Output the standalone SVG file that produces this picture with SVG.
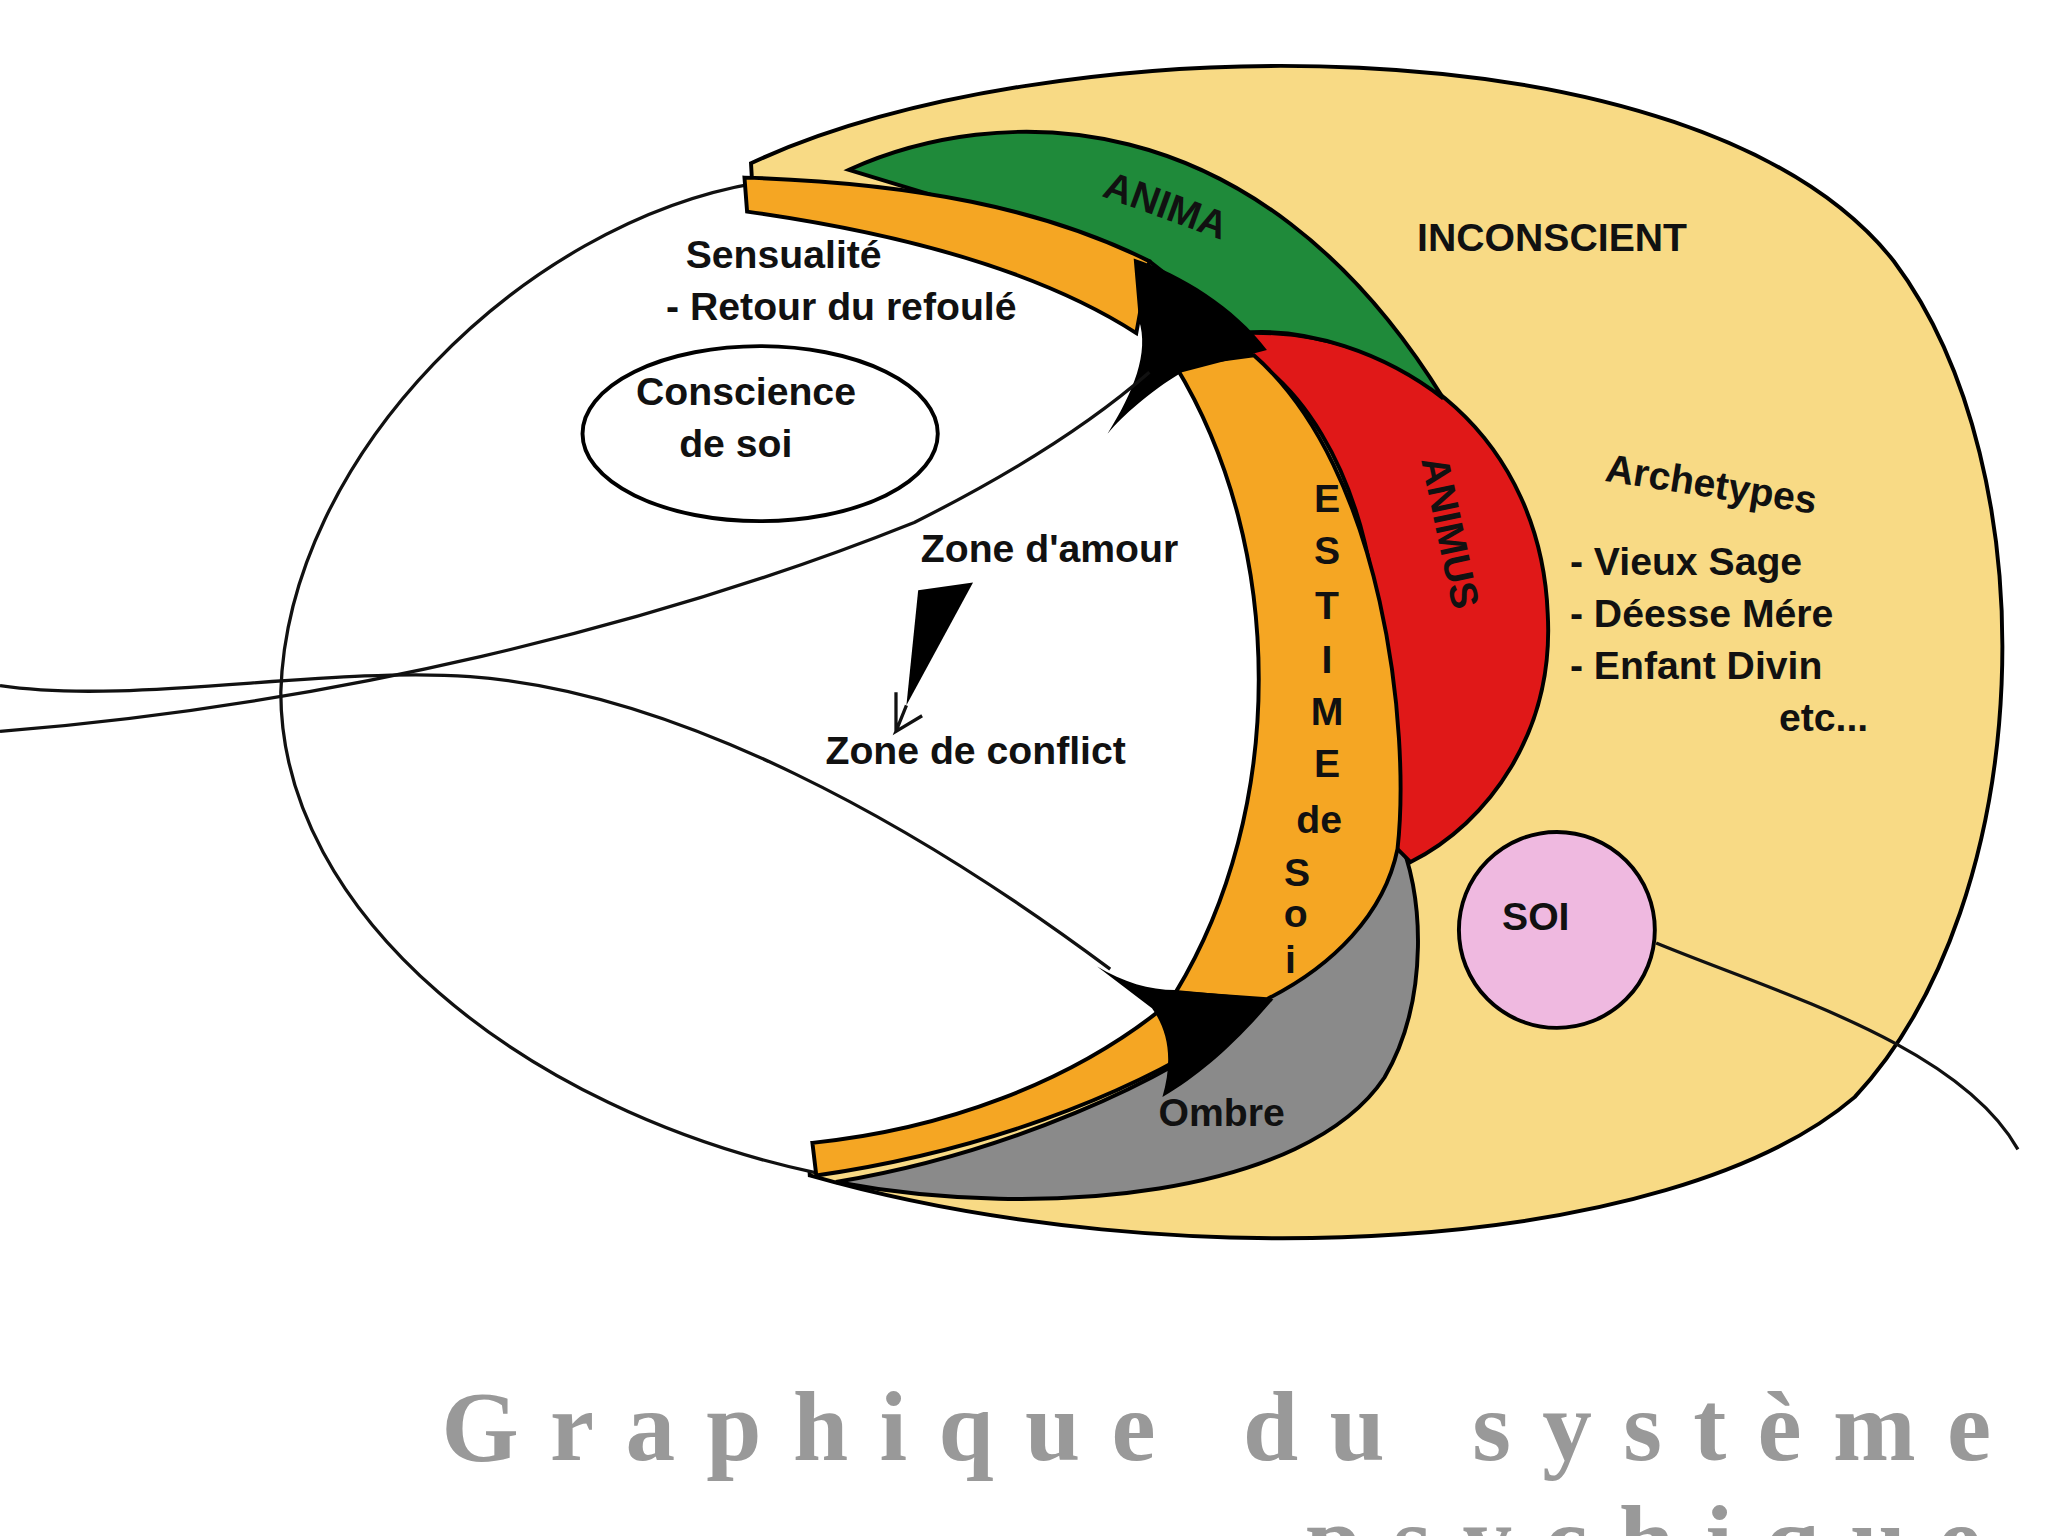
<svg xmlns="http://www.w3.org/2000/svg" width="2048" height="1536" viewBox="0 0 2048 1536">
<style>
.s{stroke:#000;stroke-width:3;}
.t{font-family:"Liberation Sans",Arial,sans-serif;font-weight:bold;fill:#111;font-size:30px;}
.l{fill:none;stroke:#111;stroke-width:2.5;}
</style>
<rect width="2048" height="1536" fill="#fff"/>
<g transform="scale(1.3061)">
<g id="inconscient"><path class="s" fill="#f8da85" d="M575,125 C800,20 1300,10 1450,200 C1570,360 1560,690 1420,840 C1280,960 900,980 620,900 Z"/></g>
<g id="conscient"><path fill="#fff" d="M575,140 C400,170 220,350 215,530 C215,700 400,850 625,898 C750,882 860,840 935,792 C1000,640 1000,420 960,275 C930,240 880,215 870,215 C800,175 700,150 575,140 Z"/>
<path class="l" stroke-width="3" d="M580,140 C400,170 220,350 215,530 C215,700 400,850 625,898"/></g>
<g id="ombre"><path class="s" fill="#8a8a8a" d="M640,905 C800,935 1000,915 1060,825 C1095,765 1090,680 1070,640 L1000,730 L970,765 C900,830 760,885 640,905 Z"/></g>
<g id="animus"><path class="s" fill="#e01818" d="M950,255 C1080,250 1180,340 1185,470 C1190,560 1140,630 1080,660 L1040,620 C1080,480 1040,330 960,275 Z"/></g>
<g id="anima"><path class="s" fill="#1f8a3a" d="M650,130 C760,80 960,70 1105,305 C1060,270 1000,250 950,255 L880,200 Z"/></g>
<g id="bands">
<path class="s" fill="#f5a623" d="M570,136 L572,162 C700,180 800,210 870,255 L880,200 C800,160 700,140 570,136 Z"/>
<path class="s" fill="#f5a623" d="M900,280 L960,272 C1060,360 1080,560 1070,650 C1060,700 1020,740 970,765 L900,760 C985,620 985,420 900,280 Z"/>
<path class="s" fill="#f5a623" d="M622,875 L625,900 C750,882 860,840 935,792 L895,768 C820,830 720,865 622,875 Z"/>
<path fill="#000" d="M868,198 C905,210 945,235 970,268 L905,285 C880,300 860,318 848,332 C868,300 880,270 872,245 Z"/>
<path fill="#000" d="M840,740 C860,752 880,758 900,758 L975,765 C945,800 920,822 890,840 C898,812 895,790 882,772 Z"/>
</g>
<g id="connectors">
<path class="l" d="M0,560 C250,540 500,480 700,400 C780,360 840,320 880,285"/>
<path class="l" d="M0,525 C100,540 250,510 360,518 C520,530 700,630 850,742"/>
<path class="l" d="M1268,722 C1360,760 1500,800 1545,880"/>
<polygon points="703,452 745,446 694,540" fill="#000"/>
<path class="l" d="M694,540 L686,560 L706,548 M686,560 L686,530"/>
</g>
<g id="conscience"><ellipse cx="582" cy="332" rx="136" ry="67" fill="#fff" class="s" stroke-width="2"/>
<text class="t" x="487" y="310">Conscience</text><text class="t" x="520" y="350">de soi</text></g>
<g id="soi"><circle cx="1192" cy="712" r="75" fill="#efb9e0" class="s" stroke-width="4"/><text class="t" x="1150" y="712" font-size="32">SOI</text></g>
<g id="labels">
<text class="t" x="525" y="205">Sensualité</text>
<text class="t" x="510" y="245">- Retour du refoulé</text>
<text class="t" x="705" y="430">Zone d'amour</text>
<text class="t" x="632" y="585">Zone de conflict</text>
<text class="t" x="1085" y="192" font-size="38">INCONSCIENT</text>
<text class="t" font-size="34" transform="translate(843,150) rotate(20)">ANIMA</text>
<text class="t" font-size="32" transform="translate(1088,352) rotate(78)">ANIMUS</text>
<text class="t" font-size="30" transform="translate(1228,368) rotate(9)">Archetypes</text>
<text class="t" x="1202" y="440">- Vieux Sage</text>
<text class="t" x="1202" y="480">- Déesse Mére</text>
<text class="t" x="1202" y="520">- Enfant Divin</text>
<text class="t" x="1362" y="560">etc...</text>
<g class="t" font-size="27" text-anchor="middle">
<text x="1016" y="392">E</text><text x="1016" y="432">S</text><text x="1016" y="474">T</text><text x="1016" y="515">I</text><text x="1016" y="555">M</text><text x="1016" y="595">E</text><text x="1010" y="638">de</text><text x="993" y="678">S</text><text x="992" y="710">o</text><text x="988" y="745">i</text>
</g>
<text class="t" x="887" y="862" font-size="26">Ombre</text>
</g>
<g id="title" font-family="'Liberation Serif',serif" font-weight="bold" fill="#999" font-size="76" letter-spacing="24">
<text x="338" y="1118">Graphique du système</text>
<text x="1000" y="1205">psychique</text>
</g>
</g>
</svg>
